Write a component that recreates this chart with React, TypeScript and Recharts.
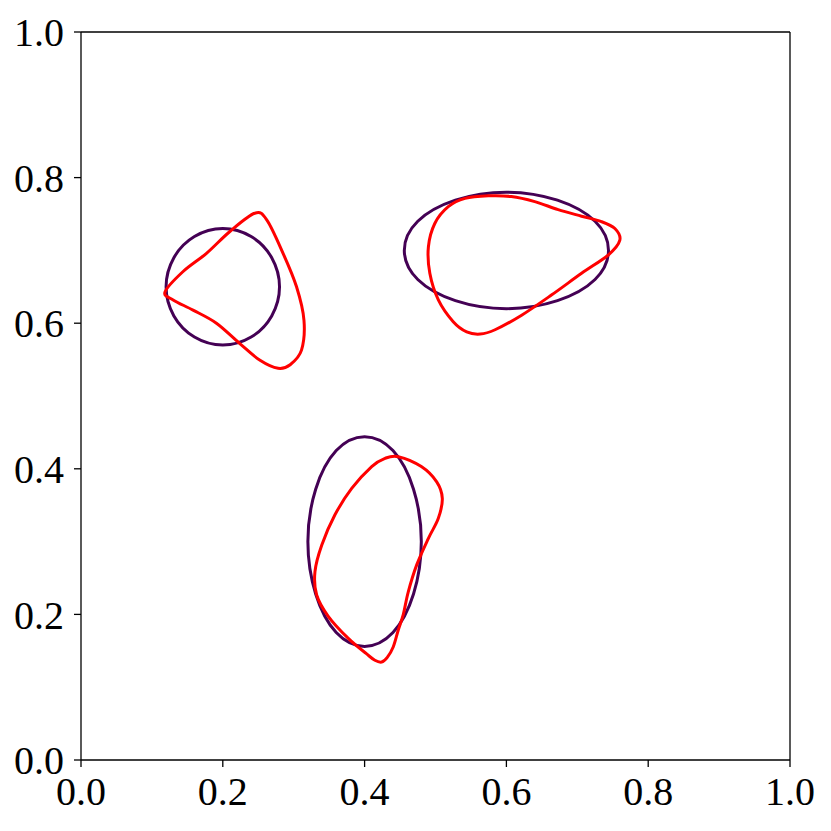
import { LineChart, Line, XAxis, YAxis, ReferenceLine } from "recharts";

// axis ticks
const ticks = [0, 0.2, 0.4, 0.6, 0.8, 1.0];

// purple reference ellipses
const circleLeft = [
  { x: 0.28, y: 0.65 }, { x: 0.269, y: 0.69 }, { x: 0.24, y: 0.719 }, { x: 0.2, y: 0.73 },
  { x: 0.16, y: 0.719 }, { x: 0.131, y: 0.69 }, { x: 0.12, y: 0.65 }, { x: 0.131, y: 0.61 },
  { x: 0.16, y: 0.581 }, { x: 0.2, y: 0.57 }, { x: 0.24, y: 0.581 }, { x: 0.269, y: 0.61 },
];
const ellipseRight = [
  { x: 0.744, y: 0.7 }, { x: 0.725, y: 0.74 }, { x: 0.672, y: 0.769 }, { x: 0.6, y: 0.78 },
  { x: 0.528, y: 0.769 }, { x: 0.475, y: 0.74 }, { x: 0.456, y: 0.7 }, { x: 0.475, y: 0.66 },
  { x: 0.528, y: 0.631 }, { x: 0.6, y: 0.62 }, { x: 0.672, y: 0.631 }, { x: 0.725, y: 0.66 },
];
const ellipseBottom = [
  { x: 0.48, y: 0.3 }, { x: 0.469, y: 0.372 }, { x: 0.44, y: 0.425 }, { x: 0.4, y: 0.444 },
  { x: 0.36, y: 0.425 }, { x: 0.331, y: 0.372 }, { x: 0.32, y: 0.3 }, { x: 0.331, y: 0.228 },
  { x: 0.36, y: 0.175 }, { x: 0.4, y: 0.156 }, { x: 0.44, y: 0.175 }, { x: 0.469, y: 0.228 },
];

// red deformed contours
const redLeft = [
  { x: 0.1185, y: 0.643 }, { x: 0.144, y: 0.671 }, { x: 0.177, y: 0.696 }, { x: 0.21, y: 0.726 },
  { x: 0.245, y: 0.751 }, { x: 0.262, y: 0.742 }, { x: 0.285, y: 0.696 }, { x: 0.304, y: 0.65 },
  { x: 0.3145, y: 0.604 }, { x: 0.311, y: 0.563 }, { x: 0.295, y: 0.543 }, { x: 0.278, y: 0.538 },
  { x: 0.2525, y: 0.549 }, { x: 0.224, y: 0.572 }, { x: 0.191, y: 0.6 }, { x: 0.158, y: 0.618 },
  { x: 0.13, y: 0.632 },
];
const redRight = [
  { x: 0.76, y: 0.714 }, { x: 0.753, y: 0.73 }, { x: 0.734, y: 0.7395 }, { x: 0.706, y: 0.747 },
  { x: 0.673, y: 0.756 }, { x: 0.64, y: 0.767 }, { x: 0.607, y: 0.774 }, { x: 0.5745, y: 0.775 },
  { x: 0.5416, y: 0.7715 }, { x: 0.518, y: 0.76 }, { x: 0.499, y: 0.737 }, { x: 0.49, y: 0.705 },
  { x: 0.492, y: 0.6685 }, { x: 0.504, y: 0.632 }, { x: 0.525, y: 0.602 }, { x: 0.544, y: 0.588 },
  { x: 0.563, y: 0.585 }, { x: 0.584, y: 0.591 }, { x: 0.6215, y: 0.611 }, { x: 0.664, y: 0.639 },
  { x: 0.706, y: 0.6685 }, { x: 0.744, y: 0.694 },
];
const redBottom = [
  { x: 0.4476, y: 0.4166 }, { x: 0.48, y: 0.403 }, { x: 0.5017, y: 0.382 }, { x: 0.5096, y: 0.3594 },
  { x: 0.504, y: 0.332 }, { x: 0.49, y: 0.3045 }, { x: 0.4735, y: 0.268 }, { x: 0.4616, y: 0.231 },
  { x: 0.4546, y: 0.2 }, { x: 0.4475, y: 0.1786 }, { x: 0.4405, y: 0.1556 }, { x: 0.432, y: 0.141 },
  { x: 0.424, y: 0.1345 }, { x: 0.4145, y: 0.137 }, { x: 0.4025, y: 0.146 }, { x: 0.377, y: 0.167 },
  { x: 0.349, y: 0.197 }, { x: 0.3324, y: 0.2266 }, { x: 0.33, y: 0.2587 }, { x: 0.3395, y: 0.295 },
  { x: 0.358, y: 0.3365 }, { x: 0.3818, y: 0.373 }, { x: 0.41, y: 0.403 }, { x: 0.4288, y: 0.4144 },
];

const purple = "#440154";
const red = "#ff0000";

// closed catmull-rom curve so the contours pass through the read points
const closedSpline = (context: any) => {
  let pts: number[][] = [];
  return {
    areaStart() {},
    areaEnd() {},
    lineStart() {
      pts = [];
    },
    point(x: number, y: number) {
      pts.push([+x, +y]);
    },
    lineEnd() {
      const n = pts.length;
      if (!n) return;
      context.moveTo(pts[0][0], pts[0][1]);
      for (let i = 0; i < n; i++) {
        const p0 = pts[(i - 1 + n) % n];
        const p1 = pts[i];
        const p2 = pts[(i + 1) % n];
        const p3 = pts[(i + 2) % n];
        context.bezierCurveTo(
          p1[0] + (p2[0] - p0[0]) / 6,
          p1[1] + (p2[1] - p0[1]) / 6,
          p2[0] - (p3[0] - p1[0]) / 6,
          p2[1] - (p3[1] - p1[1]) / 6,
          p2[0],
          p2[1]
        );
      }
      context.closePath();
    },
  };
};

const tickFont = { fontFamily: "Liberation Serif", fontSize: 40, fill: "#000" };

const series = [
  { key: "c1", data: circleLeft, color: purple },
  { key: "c2", data: ellipseRight, color: purple },
  { key: "c3", data: ellipseBottom, color: purple },
  { key: "r1", data: redLeft, color: red },
  { key: "r2", data: redRight, color: red },
  { key: "r3", data: redBottom, color: red },
];

export default function App() {
  return (
    <div style={{ position: "absolute", left: 0, top: 0, background: "#fff" }}>
      <LineChart
        width={831}
        height={831}
        margin={{ top: 32, right: 41, left: 0, bottom: 0 }}
      >
        <XAxis
          dataKey="x"
          type="number"
          domain={[0, 1]}
          ticks={ticks}
          tickFormatter={(v) => v.toFixed(1)}
          height={71}
          tickSize={7}
          tickMargin={10}
          stroke="#000"
          strokeWidth={1.3}
          tick={tickFont}
          allowDataOverflow
        />
        <YAxis
          dataKey="y"
          type="number"
          domain={[0, 1]}
          ticks={ticks}
          tickFormatter={(v) => v.toFixed(1)}
          width={81}
          tickSize={7}
          tickMargin={10}
          stroke="#000"
          strokeWidth={1.3}
          tick={tickFont}
          allowDataOverflow
        />
        <ReferenceLine x={1} stroke="#000" strokeWidth={1.3} />
        <ReferenceLine y={1} stroke="#000" strokeWidth={1.3} />
        {series.map((s) => (
          <Line
            key={s.key}
            data={s.data}
            dataKey="y"
            type={closedSpline as any}
            stroke={s.color}
            strokeWidth={3}
            dot={false}
            activeDot={false}
            isAnimationActive={false}
          />
        ))}
      </LineChart>
    </div>
  );
}
